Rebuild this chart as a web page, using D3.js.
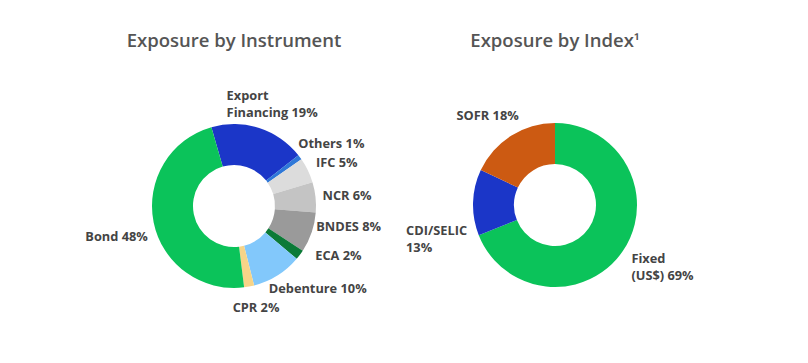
<!DOCTYPE html>
<html>
<head>
<meta charset="utf-8">
<script src="https://cdn.jsdelivr.net/npm/d3@7"></script>
<style>
  body { margin: 0; background: #fff; }
  svg { font-family: "Open Sans", sans-serif; }
</style>
</head>
<body>
<svg id="chart" width="808" height="363"></svg>
<script>
// Exposure by Instrument
const instrumentNames = ['Export Financing', 'Others', 'IFC', 'NCR', 'BNDES', 'ECA', 'Debenture', 'CPR', 'Bond'];
const instrumentValues = [19, 1, 5, 6, 8, 2, 10, 2, 48];
const instrumentColors = ['#1b36c8', '#2f78d8', '#dcdcdc', '#c4c4c4', '#9a9a9a', '#0b7a37', '#82c8fb', '#f7d488', '#0bc35a'];

// Exposure by Index
const indexNames = ['Fixed (US$)', 'CDI/SELIC', 'SOFR'];
const indexValues = [69, 13, 18];
const indexColors = ['#0bc35a', '#1b36c8', '#cc5a12'];

const svg = d3.select('#chart');

// label text lines + nudges from the label-arc centroid
const instLabels = [
  { lines: ['Export', 'Financing 19%'], dx: -35, dy: -20, anchor: 'start' },
  { lines: ['Others 1%'], dx: -8, dy: -4, anchor: 'start' },
  { lines: ['IFC 5%'], dx: 1, dy: 0, anchor: 'start' },
  { lines: ['NCR 6%'], dx: -1, dy: 4, anchor: 'start' },
  { lines: ['BNDES 8%'], dx: -3, dy: -4, anchor: 'start' },
  { lines: ['ECA 2%'], dx: 9, dy: 0, anchor: 'start' },
  { lines: ['Debenture 10%'], dx: -13, dy: 11, anchor: 'start' },
  { lines: ['CPR 2%'], dx: -18, dy: 18, anchor: 'start' },
  { lines: ['Bond 48%'], dx: 2, dy: 17, anchor: 'end' }
];
const idxLabels = [
  { lines: ['Fixed', '(US$) 69%'], dx: 2, dy: 7, anchor: 'start' },
  { lines: ['CDI/SELIC', '13%'], dx: -59, dy: 33, anchor: 'start' },
  { lines: ['SOFR 18%'], dx: 12, dy: -9, anchor: 'end' }
];

function drawDonut(opts) {
  const g = svg.append('g').attr('transform', `translate(${opts.cx},${opts.cy})`);

  const title = svg.append('text')
    .attr('x', opts.cx)
    .attr('y', 47)
    .attr('text-anchor', 'middle')
    .style('font-size', '18.5px')
    .style('font-weight', 600)
    .style('fill', '#555')
    .text(opts.title);
  if (opts.note) {
    title.append('tspan')
      .style('font-size', '16px')
      .text(opts.note);
  }

  const pie = d3.pie()
    .sort(null)
    .value(d => d)
    .startAngle(opts.start)
    .endAngle(opts.start + 2 * Math.PI);
  const arcs = pie(opts.values);

  const arc = d3.arc().innerRadius(41).outerRadius(82);
  const labelArc = d3.arc().innerRadius(90).outerRadius(90);

  g.selectAll('path')
    .data(arcs)
    .join('path')
    .attr('d', arc)
    .attr('fill', (d, i) => opts.colors[i]);

  const lab = g.selectAll('.lab')
    .data(arcs)
    .join('text')
    .attr('class', 'lab')
    .attr('transform', (d, i) => {
      const c = labelArc.centroid(d);
      return `translate(${c[0] + opts.labels[i].dx},${c[1] + opts.labels[i].dy})`;
    })
    .attr('text-anchor', (d, i) => opts.labels[i].anchor)
    .style('font-size', '12.8px')
    .style('font-weight', 'bold')
    .style('fill', '#444');

  lab.selectAll('tspan')
    .data((d, i) => opts.labels[i].lines)
    .join('tspan')
    .attr('x', 0)
    .attr('dy', (d, j) => j === 0 ? 0 : 17)
    .text(d => d);
}

drawDonut({
  title: 'Exposure by Instrument',
  cx: 234, cy: 206,
  start: -16 * Math.PI / 180,
  values: instrumentValues,
  colors: instrumentColors,
  labels: instLabels
});

drawDonut({
  title: 'Exposure by Index',
  note: '\u00b9',
  cx: 555, cy: 205,
  start: 0,
  values: indexValues,
  colors: indexColors,
  labels: idxLabels
});
</script>
</body>
</html>
